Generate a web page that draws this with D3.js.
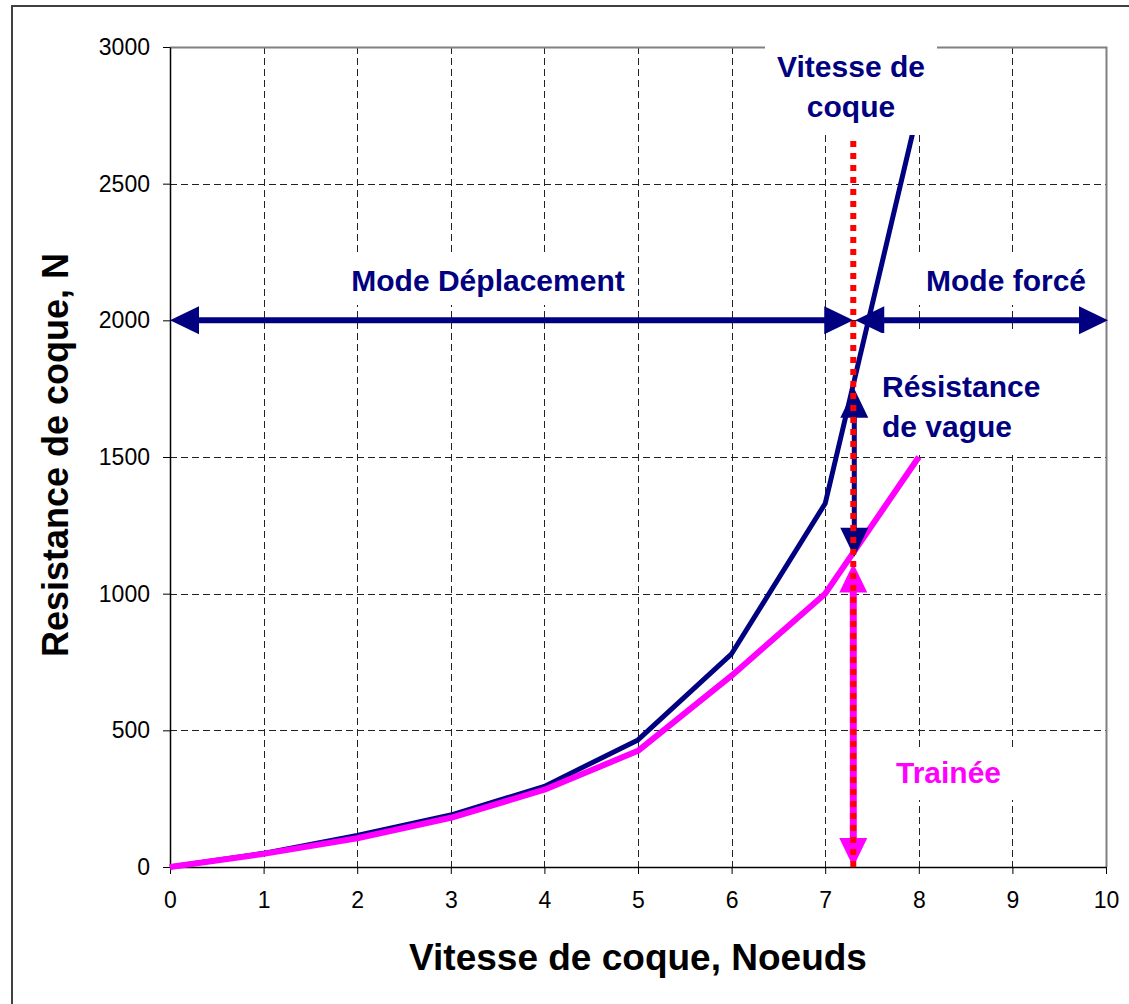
<!DOCTYPE html>
<html>
<head>
<meta charset="utf-8">
<script src="https://cdn.jsdelivr.net/npm/d3@7"></script>
<style>
  body { margin: 0; background: #fff; }
  text { font-family: "Liberation Sans", Arial, sans-serif; }
</style>
</head>
<body>
<div id="chart"></div>
<script>
// chart values
var speeds = [0, 1, 2, 3, 4, 5, 6, 7, 8];
var totalResistance = [0, 50, 115, 190, 295, 465, 780, 1330, 2780];
var dragResistance = [0, 48, 105, 180, 283, 425, 700, 1000, 1500];
var xTicks = [0, 1, 2, 3, 4, 5, 6, 7, 8, 9, 10];
var yTicks = [0, 500, 1000, 1500, 2000, 2500, 3000];

// annotation values
var hullSpeed = 7.3;
var modeLevel = 2000;
var waveTop = 1750, waveBottom = 1135;
var dragTop = 1110;

var navy = "#000080", pink = "#ff00ff", red = "#ff0000";

var W = 1129, H = 1004;
var svg = d3.select("#chart").append("svg")
    .attr("width", W).attr("height", H);

// outer frame (only top/left visible)
svg.append("rect")
    .attr("x", 12).attr("y", 6)
    .attr("width", W + 20).attr("height", H + 20)
    .attr("fill", "#fff").attr("stroke", "#404040").attr("stroke-width", 2);

var x = d3.scaleLinear().domain([0, 10]).range([170, 1106]);
var y = d3.scaleLinear().domain([0, 3000]).range([867, 47]);

// grid
svg.append("g").selectAll("line").data(xTicks.slice(1, -1)).enter().append("line")
    .attr("x1", function(d){ return Math.round(x(d)) + 0.5; })
    .attr("x2", function(d){ return Math.round(x(d)) + 0.5; })
    .attr("y1", y(3000)).attr("y2", y(0))
    .attr("stroke", "#222").attr("stroke-dasharray", "7,4");
svg.append("g").selectAll("line").data(yTicks.slice(1, -1)).enter().append("line")
    .attr("y1", function(d){ return Math.round(y(d)) + 0.5; })
    .attr("y2", function(d){ return Math.round(y(d)) + 0.5; })
    .attr("x1", x(0)).attr("x2", x(10))
    .attr("stroke", "#222").attr("stroke-dasharray", "7,4");

// plot frame top / right
svg.append("path")
    .attr("d", "M" + x(0) + "," + (y(3000) + 0.5) + "H" + (x(10) + 0.5) + "V" + y(0))
    .attr("fill", "none").attr("stroke", "#808080").attr("stroke-width", 2);

// axes
var xAxis = svg.append("g")
    .attr("transform", "translate(0," + y(0) + ")")
    .call(d3.axisBottom(x).tickValues(xTicks).tickSize(7).tickPadding(18).tickSizeOuter(0));
var yAxis = svg.append("g")
    .attr("transform", "translate(" + x(0) + ",0)")
    .call(d3.axisLeft(y).tickValues(yTicks).tickSize(7).tickPadding(13).tickSizeOuter(0)
        .tickFormat(d3.format("d")));
[xAxis, yAxis].forEach(function(a){
    a.select(".domain").attr("stroke", "#000").attr("stroke-width", 1.5);
    a.selectAll(".tick line").attr("stroke", "#000");
    a.selectAll(".tick text")
        .attr("font-family", "Liberation Sans, Arial, sans-serif")
        .attr("font-size", "23px").attr("fill", "#000");
});

// axis titles
svg.append("text")
    .attr("x", x(5)).attr("y", 970)
    .attr("text-anchor", "middle")
    .attr("font-size", "37px").attr("font-weight", "bold")
    .text("Vitesse de coque, Noeuds");
svg.append("text")
    .attr("transform", "translate(68," + 455 + ") rotate(-90)")
    .attr("text-anchor", "middle")
    .attr("font-size", "36px").attr("font-weight", "bold")
    .text("Resistance de coque, N");

// series
var line = d3.line()
    .x(function(d){ return x(d[0]); })
    .y(function(d){ return y(d[1]); });
svg.append("path")
    .datum(d3.zip(speeds, totalResistance))
    .attr("d", line)
    .attr("fill", "none").attr("stroke", navy).attr("stroke-width", 5)
    .attr("stroke-linejoin", "round");
svg.append("path")
    .datum(d3.zip(speeds, dragResistance))
    .attr("d", line)
    .attr("fill", "none").attr("stroke", pink).attr("stroke-width", 6)
    .attr("stroke-linejoin", "round");

// arrows
function arrow(x1, y1, x2, y2, color, width) {
    var hl = 29, hw = 14;
    var dx = x2 - x1, dy = y2 - y1, len = Math.sqrt(dx * dx + dy * dy);
    var ux = dx / len, uy = dy / len, px = -uy, py = ux;
    var g = svg.append("g");
    g.append("line")
        .attr("x1", x1 + ux * (hl - 2)).attr("y1", y1 + uy * (hl - 2))
        .attr("x2", x2 - ux * (hl - 2)).attr("y2", y2 - uy * (hl - 2))
        .attr("stroke", color).attr("stroke-width", width);
    [[x1, y1, -1], [x2, y2, 1]].forEach(function(e){
        var tx = e[0], ty = e[1], s = e[2];
        var bx = tx - s * ux * hl, by = ty - s * uy * hl;
        g.append("path")
            .attr("d", "M" + tx + "," + ty +
                "L" + (bx + px * hw) + "," + (by + py * hw) +
                "L" + (bx - px * hw) + "," + (by - py * hw) + "Z")
            .attr("fill", color);
    });
}
arrow(x(0), y(modeLevel), x(hullSpeed), y(modeLevel), navy, 6);
arrow(x(hullSpeed) + 2, y(modeLevel), x(10) + 2, y(modeLevel), navy, 6);
arrow(x(hullSpeed) + 1, y(waveTop), x(hullSpeed) + 1, y(waveBottom), navy, 5);
arrow(x(hullSpeed), y(dragTop), x(hullSpeed), y(0), pink, 7);

// hull speed dotted line
svg.append("line")
    .attr("x1", x(hullSpeed)).attr("x2", x(hullSpeed))
    .attr("y1", y(0)).attr("y2", y(3000))
    .attr("stroke", red).attr("stroke-width", 6)
    .attr("stroke-dasharray", "6,6");

// labels with white boxes
function label(box, lines, color, anchor) {
    svg.append("rect")
        .attr("x", box[0]).attr("y", box[1])
        .attr("width", box[2] - box[0]).attr("height", box[3] - box[1])
        .attr("fill", "#fff");
    lines.forEach(function(l){
        svg.append("text")
            .attr("x", l[0]).attr("y", l[1])
            .attr("text-anchor", anchor)
            .attr("font-size", "30px").attr("font-weight", "bold")
            .attr("fill", color)
            .text(l[2]);
    });
}
label([765, 44, 937, 135], [[851, 77, "Vitesse de"], [851, 117, "coque"]], navy, "middle");
label([340, 256, 636, 305], [[488, 291, "Mode Déplacement"]], navy, "middle");
label([914, 256, 1098, 305], [[1006, 291, "Mode forcé"]], navy, "middle");
label([872, 333, 1050, 455], [[882, 397, "Résistance"], [882, 437, "de vague"]], navy, "start");
label([886, 747, 1016, 800], [[896, 783, "Trainée"]], pink, "start");
</script>
</body>
</html>
